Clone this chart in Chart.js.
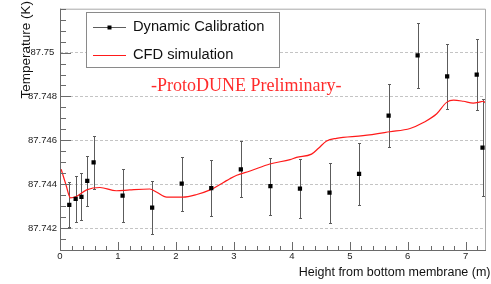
<!DOCTYPE html>
<html>
<head>
<meta charset="utf-8">
<script src="https://cdn.jsdelivr.net/npm/chart.js@4.4.1/dist/chart.umd.min.js"></script>
<style>
  html, body { margin: 0; padding: 0; background: #fff; }
  #wrap { width: 491px; height: 284px; }
</style>
</head>
<body>
<div id="wrap"><canvas id="chart" width="491" height="284"></canvas></div>
<script>
// Dynamic calibration measurements (height in m, temperature in K, error in K)
const heights = [0.16, 0.27, 0.37, 0.47, 0.58, 1.08, 1.59, 2.10, 2.61, 3.12, 3.63, 4.14, 4.65, 5.16, 5.67, 6.17, 6.68, 7.19, 7.29];
const temps = [87.74306, 87.74333, 87.74342, 87.74415, 87.7450, 87.74348, 87.74293, 87.74403, 87.74382, 87.74468,
               87.74391, 87.7438, 87.74361, 87.74447, 87.74713, 87.74987, 87.74891, 87.7490, 87.74567];
const tempErrors = [0.00102, 0.00105, 0.00107, 0.00113, 0.0012, 0.0012, 0.0012, 0.00123, 0.00128, 0.00128,
                    0.0013, 0.00133, 0.00137, 0.0014, 0.00145, 0.00147, 0.0015, 0.0016, 0.0022];

// CFD simulation profile
const cfdHeights = [0.02, 0.10, 0.18, 0.28, 0.46, 0.69, 0.97, 1.20, 1.55, 1.67, 1.84, 2.12, 2.36, 2.59, 2.82, 2.93,
                    3.05, 3.28, 3.62, 3.97, 4.08, 4.34, 4.46, 4.60, 4.77, 5.23, 5.69, 6.04, 6.27, 6.50, 6.67, 6.79,
                    6.96, 7.13, 7.22, 7.30, 7.35];
const cfdTemps = [87.74468, 87.7440, 87.74338, 87.74344, 87.74374, 87.74385, 87.7437, 87.74374, 87.74378, 87.74363,
                  87.74341, 87.74341, 87.74353, 87.74374, 87.74408, 87.74425, 87.74441, 87.7446, 87.74492, 87.74512,
                  87.74522, 87.74537, 87.74564, 87.74597, 87.74609, 87.74621, 87.74639, 87.74654, 87.74681, 87.74721,
                  87.74773, 87.74783, 87.74778, 87.7477, 87.74773, 87.74778, 87.74769];

// Axis ticks
const xTicks = [0, 1, 2, 3, 4, 5, 6, 7];
const xTickLabels = ['0', '1', '2', '3', '4', '5', '6', '7'];
const yTicks = [87.742, 87.744, 87.746, 87.748, 87.75];
const yTickLabels = ['87.742', '87.744', '87.746', '87.748', '87.75'];

const SANS = '"Liberation Sans", Arial, sans-serif';
const SERIF = '"Liberation Serif", "Times New Roman", serif';

// Error bars under the markers
const errorBars = {
    id: 'errorBars',
    beforeDatasetsDraw(chart) {
        const { ctx, scales: { x, y } } = chart;
        ctx.save();
        ctx.strokeStyle = '#5c5c5c';
        ctx.lineWidth = 1;
        heights.forEach((h, i) => {
            const px = Math.round(x.getPixelForValue(h)) + 0.5;
            const top = Math.round(y.getPixelForValue(temps[i] + tempErrors[i])) + 0.5;
            const bot = Math.round(y.getPixelForValue(temps[i] - tempErrors[i])) + 0.5;
            ctx.beginPath();
            ctx.moveTo(px, top);
            ctx.lineTo(px, bot);
            ctx.moveTo(px - 1.5, top);
            ctx.lineTo(px + 1.5, top);
            ctx.moveTo(px - 1.5, bot);
            ctx.lineTo(px + 1.5, bot);
            ctx.stroke();
        });
        ctx.restore();
    }
};

// Inward ticks (ROOT style) and the frame
function innerTicks(ctx, scale, area, step, majors, isX) {
    const start = Math.ceil(scale.min / step - 1e-6);
    const end = Math.floor(scale.max / step + 1e-6);
    for (let i = start; i <= end; i++) {
        const v = i * step;
        const major = majors.some(m => Math.abs(m - v) < step / 10);
        const p = Math.round(scale.getPixelForValue(v)) + 0.5;
        if (isX) {
            const len = major ? 8 : 4;
            ctx.moveTo(p, area.bottom);
            ctx.lineTo(p, area.bottom - len);
        } else {
            const len = major ? 11 : 6;
            ctx.moveTo(area.left, p);
            ctx.lineTo(area.left + len, p);
        }
    }
}

const frame = {
    id: 'frame',
    afterDatasetsDraw(chart) {
        const { ctx, chartArea: a, scales: { x, y } } = chart;
        ctx.save();
        ctx.lineWidth = 1;
        ctx.strokeStyle = '#a8a8a8';
        ctx.beginPath();
        ctx.moveTo(a.left, a.top + 0.5);
        ctx.lineTo(a.right - 0.5, a.top + 0.5);
        ctx.lineTo(a.right - 0.5, a.bottom);
        ctx.stroke();
        ctx.strokeStyle = '#6a6a6a';
        ctx.beginPath();
        ctx.moveTo(a.left + 0.5, a.top);
        ctx.lineTo(a.left + 0.5, a.bottom + 0.5);
        ctx.lineTo(a.right, a.bottom + 0.5);
        innerTicks(ctx, x, a, 0.2, xTicks, true);
        innerTicks(ctx, y, a, 0.0005, yTicks, false);
        ctx.stroke();
        ctx.restore();
    }
};

// Legend, annotation and axis titles
const labels = {
    id: 'labels',
    afterDraw(chart) {
        const { ctx } = chart;
        const ds = chart.data.datasets;
        ctx.save();

        // legend box
        ctx.fillStyle = '#fff';
        ctx.fillRect(86, 12, 193, 55);
        ctx.strokeStyle = '#8a8a8a';
        ctx.lineWidth = 1;
        ctx.strokeRect(86.5, 12.5, 193, 55);

        const rows = [26.5, 54.5];
        ctx.font = '14.7px ' + SANS;
        ctx.textBaseline = 'middle';
        ctx.textAlign = 'left';
        ds.forEach((d, i) => {
            const yy = Math.round(rows[i]) + 0.5;
            ctx.strokeStyle = d.legendLine;
            ctx.beginPath();
            ctx.moveTo(93, yy);
            ctx.lineTo(126, yy);
            ctx.stroke();
            if (d.pointRadius > 0) {
                ctx.fillStyle = d.pointBackgroundColor;
                ctx.fillRect(107.5, yy - 2, 4, 4);
            }
            ctx.fillStyle = '#111';
            ctx.fillText(d.label, 133, rows[i] + 0.5);
        });

        // preliminary tag
        ctx.font = '18px ' + SERIF;
        ctx.fillStyle = '#ff2b2b';
        ctx.textBaseline = 'alphabetic';
        ctx.fillText('-ProtoDUNE Preliminary-', 151, 90.5);

        // axis titles
        ctx.fillStyle = '#111';
        ctx.font = '12.5px ' + SANS;
        ctx.textAlign = 'right';
        ctx.fillText('Height from bottom membrane (m)', 490.5, 276);

        ctx.translate(29.5, 1);
        ctx.rotate(-Math.PI / 2);
        ctx.font = '13.5px ' + SANS;
        ctx.textAlign = 'right';
        ctx.fillText('Temperature (K)', 0, 0);
        ctx.restore();
    }
};

const ctx = document.getElementById('chart').getContext('2d');
new Chart(ctx, {
    type: 'scatter',
    data: {
        datasets: [
            {
                label: 'Dynamic Calibration',
                data: heights.map((h, i) => ({ x: h, y: temps[i] })),
                pointStyle: 'rect',
                pointRadius: 3,
                pointBackgroundColor: '#000',
                pointBorderColor: '#000',
                pointBorderWidth: 0,
                showLine: false,
                legendLine: '#5c5c5c',
                order: 1
            },
            {
                label: 'CFD simulation',
                data: cfdHeights.map((h, i) => ({ x: h, y: cfdTemps[i] })),
                showLine: true,
                borderColor: '#ff1a1a',
                borderWidth: 1.2,
                pointRadius: 0,
                cubicInterpolationMode: 'monotone',
                legendLine: '#ff1a1a',
                order: 2
            }
        ]
    },
    options: {
        responsive: false,
        animation: false,
        devicePixelRatio: 1,
        layout: { autoPadding: false, padding: { top: 5, right: 5, left: 0, bottom: 0 } },
        plugins: { legend: { display: false }, tooltip: { enabled: false } },
        scales: {
            x: {
                type: 'linear',
                min: 0,
                max: 7.35,
                afterFit: s => { s.height = 34; },
                afterBuildTicks: s => { s.ticks = xTicks.map(v => ({ value: v })); },
                border: { display: false },
                grid: { display: false, drawTicks: false },
                ticks: {
                    padding: 1,
                    maxRotation: 0,
                    autoSkip: false,
                    color: '#222',
                    font: { family: SANS, size: 9.5 },
                    callback: v => xTickLabels[xTicks.indexOf(v)]
                }
            },
            y: {
                type: 'linear',
                min: 87.741,
                max: 87.752,
                afterFit: s => { s.width = 60; },
                afterBuildTicks: s => { s.ticks = yTicks.map(v => ({ value: v })); },
                border: { display: false, dash: [3, 2] },
                grid: { color: '#c4c4c4', lineWidth: 1, drawTicks: false },
                ticks: {
                    padding: 3,
                    crossAlign: 'center',
                    autoSkip: false,
                    color: '#222',
                    font: { family: SANS, size: 9.5 },
                    callback: v => yTickLabels[yTicks.findIndex(t => Math.abs(t - v) < 1e-7)]
                }
            }
        }
    },
    plugins: [errorBars, frame, labels]
});
</script>
</body>
</html>
